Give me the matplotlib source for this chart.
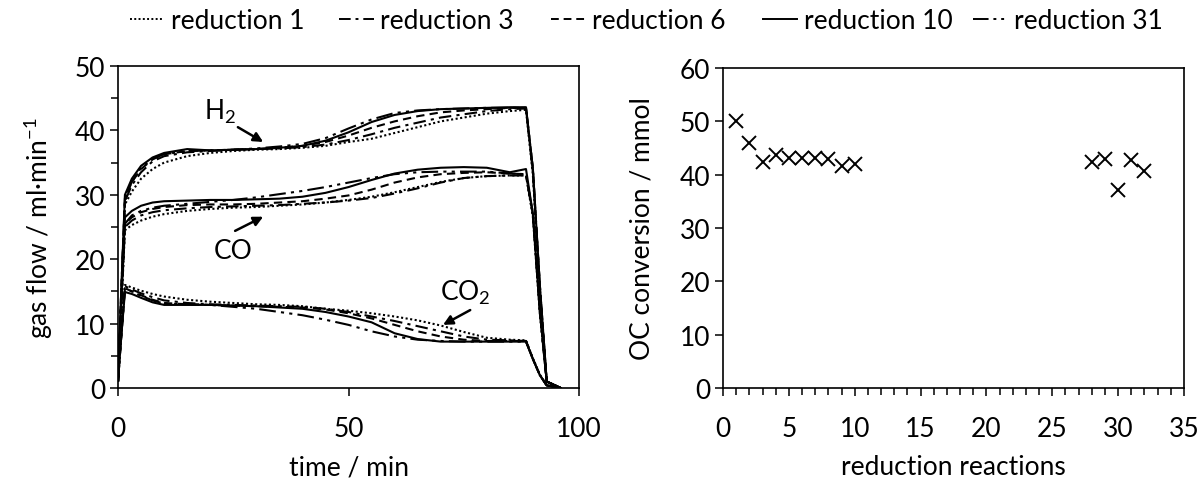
import matplotlib
matplotlib.use("Agg")
import matplotlib.pyplot as plt
from matplotlib.ticker import MultipleLocator
from matplotlib.lines import Line2D

plt.rcParams['font.family'] = ['Lato', 'DejaVu Sans']
plt.rcParams['mathtext.fontset'] = 'custom'
plt.rcParams['mathtext.rm'] = 'Lato'
plt.rcParams['mathtext.it'] = 'Lato'
plt.rcParams['mathtext.default'] = 'regular'

FS = 19

# ---- gas flow during reduction (left) ----
time_min = [0, 0.7, 1.5, 3, 5, 7.5, 10, 15, 20, 25, 30, 35, 40, 45, 50, 55,
            60, 65, 70, 75, 80, 85, 88.5, 90, 91.5, 93, 96]

h2_red1 = [1, 14, 28.5, 30.5, 32.5, 34.0, 35.0, 36.0, 36.5, 36.8, 37.0, 37.1, 37.3, 37.6,
           38.2, 38.7, 39.6, 40.5, 41.4, 42.0, 42.6, 43.0, 43.2, 33, 15, 1, 0]
h2_red3 = [1, 14.5, 29, 31.5, 33.5, 35.2, 36.0, 36.6, 36.8, 37.0, 37.1, 37.2, 37.4, 37.8,
           38.5, 39.4, 40.4, 41.2, 42.0, 42.5, 43.0, 43.3, 43.4, 33.5, 15.5, 1, 0]
h2_red6 = [1, 15, 29.5, 32, 34, 35.5, 36.3, 36.8, 36.9, 37.0, 37.1, 37.3, 37.6, 38.2,
           39.2, 40.4, 41.4, 42.2, 42.8, 43.1, 43.3, 43.5, 43.5, 34, 16, 1, 0]
h2_red10 = [1.5, 15, 30, 32.5, 34.5, 35.8, 36.5, 37.1, 36.9, 37.0, 37.1, 37.3, 37.6, 38.4,
            39.7, 41.3, 42.4, 43.0, 43.3, 43.4, 43.5, 43.6, 43.6, 34, 16, 1, 0]
h2_red31 = [1, 15, 29.5, 32, 34.2, 35.6, 36.3, 36.8, 36.9, 37.0, 37.2, 37.5, 37.9, 38.8,
            40.3, 41.7, 42.7, 43.1, 43.3, 43.4, 43.5, 43.5, 43.5, 34, 16, 1, 0]

co_red1 = [1, 12, 24.5, 25.3, 26.0, 26.6, 27.0, 27.5, 27.8, 28.0, 28.1, 28.3, 28.5, 28.8,
           29.2, 29.7, 30.4, 31.2, 32.0, 32.6, 32.9, 33.0, 33.0, 26.5, 11.5, 1, 0]
co_red3 = [1, 12.5, 25, 26, 26.8, 27.3, 27.6, 27.9, 28.1, 28.2, 28.3, 28.4, 28.6, 28.8,
           29.1, 29.5, 30.2, 31.0, 31.9, 32.6, 32.9, 33.0, 33.0, 27, 12, 1, 0]
co_red6 = [1, 13, 25.5, 26.5, 27.3, 27.8, 28.1, 28.4, 28.5, 28.5, 28.6, 28.8, 29.0, 29.4,
           29.9, 30.8, 31.9, 32.7, 33.2, 33.4, 33.5, 33.3, 33.2, 27, 12, 1, 0]
co_red10 = [1.5, 13.5, 26.5, 27.5, 28.3, 28.8, 29.0, 29.1, 29.2, 29.2, 29.3, 29.4, 29.7, 30.3,
            31.2, 32.3, 33.3, 33.9, 34.2, 34.3, 34.2, 33.5, 34.0, 27, 12, 1, 0]
co_red31 = [1, 13, 25.5, 26.8, 27.5, 28.0, 28.3, 28.6, 28.9, 29.2, 29.6, 30.1, 30.6, 31.2,
            31.9, 32.6, 33.2, 33.5, 33.6, 33.6, 33.6, 33.3, 33.2, 27, 12, 1, 0]

co2_red1 = [1, 8, 16.0, 15.6, 15.1, 14.6, 14.2, 13.7, 13.4, 13.2, 13.0, 12.9, 12.7, 12.3,
            12.0, 11.6, 11.1, 10.5, 9.7, 8.7, 7.8, 7.5, 7.4, 4.6, 2.1, 0.4, 0]
co2_red3 = [1, 8, 15.8, 15.3, 14.7, 14.1, 13.6, 13.2, 13.0, 12.9, 12.8, 12.7, 12.6, 12.3,
            11.8, 11.1, 10.4, 9.6, 8.8, 8.0, 7.5, 7.4, 7.3, 4.5, 2.0, 0.4, 0]
co2_red6 = [1, 8, 15.5, 15.0, 14.4, 13.7, 13.2, 13.0, 12.9, 12.8, 12.7, 12.6, 12.5, 12.2,
            11.6, 10.8, 9.8, 8.8, 8.0, 7.5, 7.3, 7.3, 7.3, 4.5, 2.0, 0.4, 0]
co2_red10 = [1.5, 8, 14.9, 14.6, 14.0, 13.3, 12.9, 12.9, 12.9, 12.8, 12.7, 12.5, 12.3, 11.8,
             11.1, 10.2, 8.5, 7.6, 7.2, 7.2, 7.2, 7.2, 7.2, 4.5, 2.0, 0.4, 0]
co2_red31 = [1, 8, 15.5, 15.0, 14.3, 13.6, 13.1, 13.0, 12.9, 12.6, 12.3, 11.8, 11.3, 10.6,
             9.8, 8.8, 8.0, 7.5, 7.3, 7.2, 7.2, 7.2, 7.2, 4.5, 2.0, 0.4, 0]

series_labels = ['reduction 1', 'reduction 3', 'reduction 6', 'reduction 10', 'reduction 31']
series_styles = [(0, (1, 1.2)), (0, (6, 2.5, 1.5, 2.5)), (0, (4, 2.5)), '-',
                 (0, (8, 2.5, 1.5, 2.5, 1.5, 2.5))]
h2_runs = [h2_red1, h2_red3, h2_red6, h2_red10, h2_red31]
co_runs = [co_red1, co_red3, co_red6, co_red10, co_red31]
co2_runs = [co2_red1, co2_red3, co2_red6, co2_red10, co2_red31]

# ---- oxygen carrier conversion (right) ----
reaction_no = [1, 2, 3, 4, 5, 6, 7, 8, 9, 10, 28, 29, 30, 31, 32]
oc_conversion = [50.0, 45.9, 42.3, 43.7, 43.1, 43.1, 43.1, 42.9, 41.6, 42.0,
                 42.3, 43.0, 37.2, 42.8, 40.6]

fig = plt.figure(figsize=(12.03, 4.81), dpi=100)
ax1 = fig.add_axes([0.0981, 0.1913, 0.3832, 0.6694])
ax2 = fig.add_axes([0.6010, 0.1913, 0.3832, 0.6653])

for runs in (h2_runs, co_runs, co2_runs):
    for vals, ls in zip(runs, series_styles):
        ax1.plot(time_min, vals, color='black', lw=1.5, ls=ls)

ax1.set_xlim(0, 100)
ax1.set_ylim(0, 50)
ax1.xaxis.set_major_locator(MultipleLocator(50))
ax1.yaxis.set_major_locator(MultipleLocator(10))
ax1.yaxis.set_minor_locator(MultipleLocator(5))
ax1.set_xlabel('time / min', fontsize=FS)
ax1.set_ylabel('gas flow / ml·min$^{-1}$', fontsize=FS)

arrow = dict(arrowstyle='-|>', color='black', lw=1.8, mutation_scale=14, shrinkA=0, shrinkB=0)
ax1.annotate('', xy=(31.5, 38.2), xytext=(26, 40.5), arrowprops=arrow)
ax1.text(22.1, 43.0, 'H$_2$', fontsize=FS, ha='center', va='center')
ax1.annotate('', xy=(31.5, 26.6), xytext=(25.4, 24.4), arrowprops=arrow)
ax1.text(25, 21.3, 'CO', fontsize=FS, ha='center', va='center')
ax1.annotate('', xy=(70.5, 9.8), xytext=(76.4, 12.1), arrowprops=arrow)
ax1.text(75.3, 14.9, 'CO$_2$', fontsize=FS, ha='center', va='center')

ax2.plot(reaction_no, oc_conversion, ls='none', marker='x', color='black',
         markersize=10, markeredgewidth=1.4)
ax2.set_xlim(0, 35)
ax2.set_ylim(0, 60)
ax2.xaxis.set_major_locator(MultipleLocator(5))
ax2.xaxis.set_minor_locator(MultipleLocator(1))
ax2.yaxis.set_major_locator(MultipleLocator(10))
ax2.set_xlabel('reduction reactions', fontsize=FS)
ax2.set_ylabel('OC conversion / mmol', fontsize=FS)

for ax, ylab_x in ((ax1, -0.172), (ax2, -0.176)):
    for sp in ax.spines.values():
        sp.set_linewidth(1.2)
    ax.tick_params(which='both', direction='out', width=1.1, labelsize=FS)
    ax.tick_params(which='major', length=6)
    ax.tick_params(which='minor', length=5)
    ax.tick_params(axis='x', which='both', pad=14)
    ax.tick_params(axis='y', which='both', pad=3)
    ax.xaxis.label.set_verticalalignment('center')
    ax.xaxis.set_label_coords(0.5, -0.245)
    ax.yaxis.label.set_verticalalignment('center')
    ax.yaxis.set_label_coords(ylab_x, 0.5)

# legend entries laid out in evenly spaced slots across the top
slot_x = [0.108, 0.282, 0.458, 0.634, 0.809]
for x0, lab, ls in zip(slot_x, series_labels, series_styles):
    h = Line2D([], [], color='black', lw=1.4, ls=ls)
    fig.legend([h], [lab], loc='center left', bbox_to_anchor=(x0, 0.955),
               frameon=False, fontsize=FS, handlelength=1.3, handletextpad=0.25,
               borderpad=0, borderaxespad=0)

fig.savefig('out.png', dpi=100)
